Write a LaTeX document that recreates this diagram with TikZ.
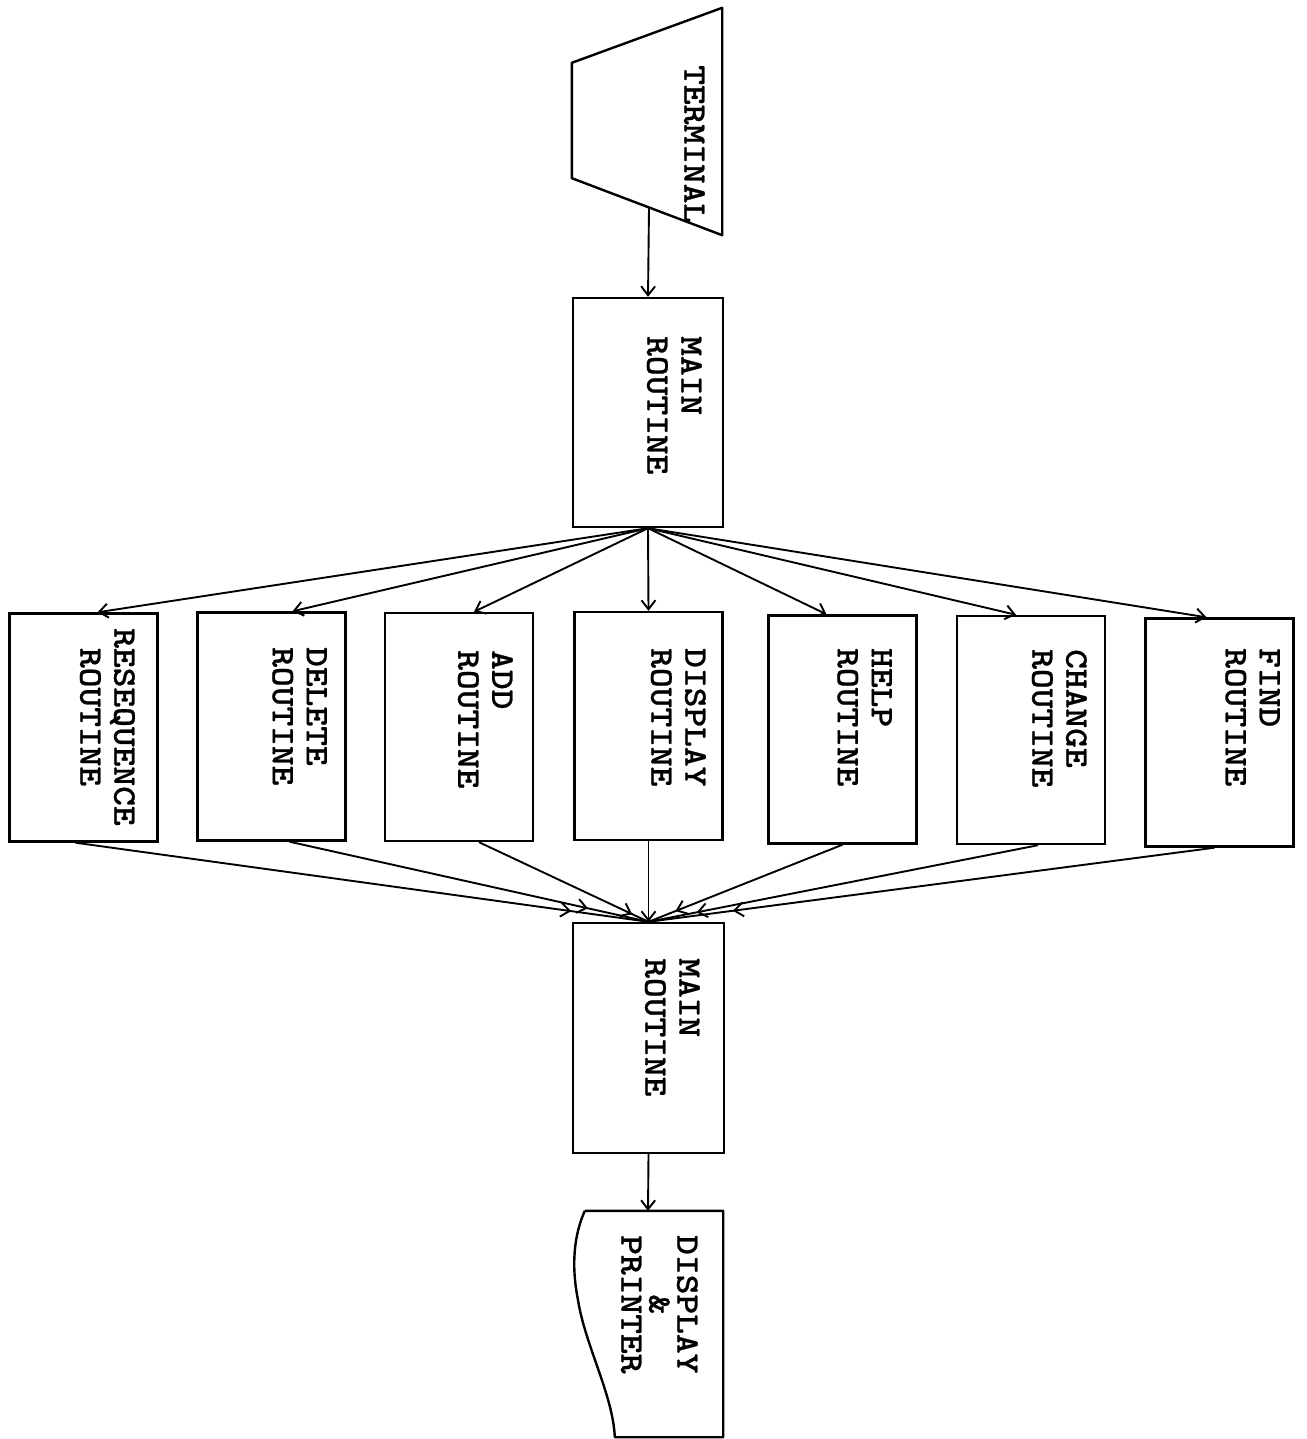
\documentclass[tikz,border=0pt]{standalone}
\usepackage{fontspec}
\newfontfamily\tw{lmmonolt10-bold.otf}[FakeStretch=1.14,FakeBold=0.6]
\usetikzlibrary{arrows.meta,calc,decorations.markings}
\tikzset{
 box/.style={draw, line width=2.4pt, inner sep=0pt, minimum width=148pt, minimum height=228pt},
 ghost/.style={inner sep=0pt},
 lbl/.style={rotate=-90, anchor=north west, inner sep=0pt, align=left, font=\tw\fontsize{33}{34}\selectfont},
 arr/.style={line width=1.9pt, -{Straight Barb[length=9pt,width=14pt]}},
 feed/.style={line width=1.9pt, postaction={decorate, decoration={markings, mark=at position #1 with {\arrow{Straight Barb[length=9pt,width=14pt]}}}}},
 outline/.style={line width=2.4pt, line join=round}
}
\begin{document}
\begin{tikzpicture}[x=1pt,y=-1pt]
\fill[white] (0,0) rectangle (1306,1439);
\useasboundingbox (0,0) rectangle (1306,1439);

% terminal
\node[ghost, minimum width=150pt, minimum height=227pt] (term) at (647,121.5) {};
\draw[outline] (term.north east) -- (term.south east) -- ($(term.south west)+(0,-57)$) -- ($(term.north west)+(0,55)$) -- cycle;
\coordinate (termout) at (649,207.3);
\node[lbl] (termtxt) at (705,65) {TERMINAL};

% main routine (top)
\node[box, minimum width=150pt, minimum height=229pt] (m1) at (648,412.5) {};
\node[lbl] (m1txt) at (702,336) {MAIN\\ROUTINE};

% routines
\node[box] (r1) at (83.5,727.5) {};
\node[box] (r2) at (271.5,726.5) {};
\node[box] (r3) at (459,727) {};
\node[box] (r4) at (648.5,726) {};
\node[box] (r5) at (842.5,729.5) {};
\node[box] (r6) at (1031,730) {};
\node[box] (r7) at (1219.5,732.5) {};
\node[lbl] (r1txt) at (135,628) {RESEQUENCE\\\hphantom{R}ROUTINE};
\node[lbl] (r2txt) at (327,647) {DELETE\\ROUTINE};
\node[lbl] (r3txt) at (513,650) {ADD\\ROUTINE};
\node[lbl] (r4txt) at (706,648) {DISPLAY\\ROUTINE};
\node[lbl] (r5txt) at (892,648) {HELP\\ROUTINE};
\node[lbl] (r6txt) at (1087,649) {CHANGE\\ROUTINE};
\node[lbl] (r7txt) at (1280,648) {FIND\\ROUTINE};

% main routine (bottom)
\node[box, minimum width=151pt, minimum height=230pt] (m2) at (648.5,1038) {};
\node[lbl] (m2txt) at (700,958) {MAIN\\ROUTINE};

% display & printer
\node[ghost, minimum width=150pt, minimum height=226pt] (dp) at (648,1324) {};
\draw[outline] ($(dp.north west)+(12,0)$) -- (dp.north east) -- (dp.south east) -- ($(dp.south west)+(42,0)$)
  .. controls (613,1395) and (585,1345) .. (578,1300)
  .. controls (571,1265) and (574,1235) .. ($(dp.north west)+(12,0)$);
\node[lbl, align=center, font=\tw\fontsize{33}{28}\selectfont] (dptxt) at (698,1235) {DISPLAY\\\&\\PRINTER};

% connectors
\draw[arr] (termout) -- (m1.north);
\draw[arr] (m1.south) -- ($(r1.north)+(14,0)$);
\draw[arr] (m1.south) -- ($(r2.north)+(21,0)$);
\draw[arr] (m1.south) -- ($(r3.north)+(15,0)$);
\draw[arr] (m1.south) -- (r4.north);
\draw[arr] (m1.south) -- ($(r5.north)+(-16,0)$);
\draw[arr] (m1.south) -- ($(r6.north)+(-15,0)$);
\draw[arr] (m1.south) -- ($(r7.north)+(-13,0)$);

\draw[feed=-78pt] ($(r1.south)+(-8,0)$) -- (m2.north);
\draw[feed=-62pt] ($(r2.south)+(18,0)$) -- (m2.north);
\draw[feed=-18pt] ($(r3.south)+(20,0)$) -- (m2.north);
\draw[arr] (r4.south) -- (m2.north);
\draw[feed=-29pt] (r5.south) -- (m2.north);
\draw[feed=-49pt] ($(r6.south)+(7,0)$) -- (m2.north);
\draw[feed=-85pt] ($(r7.south)+(-5,0)$) -- (m2.north);

\draw[arr] (m2.south) -- (dp.north);
\end{tikzpicture}
\end{document}
